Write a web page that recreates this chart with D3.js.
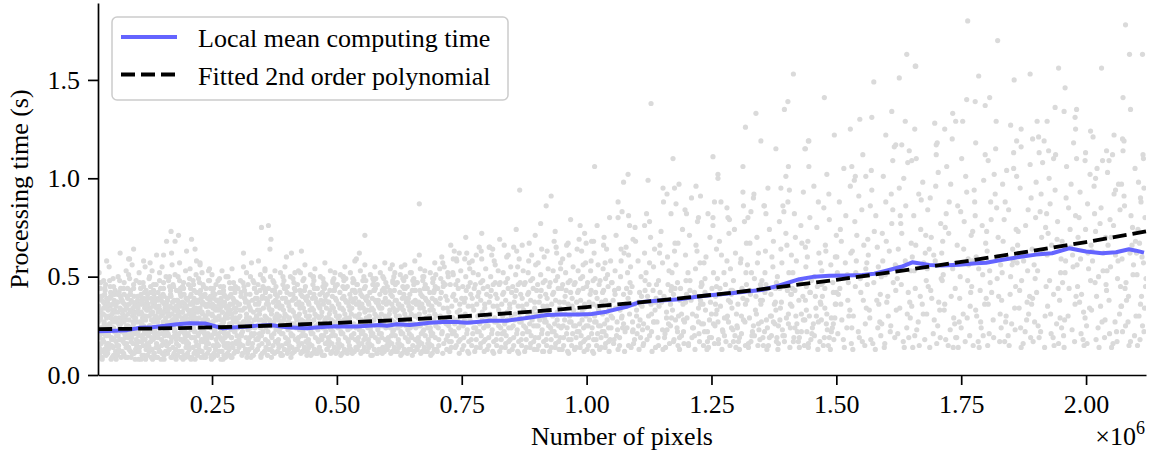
<!DOCTYPE html>
<html>
<head>
<meta charset="utf-8">
<script src="https://cdn.jsdelivr.net/npm/d3@7"></script>
<style>
body { margin: 0; background: #fff; }
text { font-family: "Liberation Serif", "Times New Roman", serif; fill: #000; }
</style>
</head>
<body>
<svg id="chart" width="1154" height="455"></svg>
<script>
// Units: x in thousands of pixels, line y in seconds, scatter y in hundredths of a second.
const xTicks = [250, 500, 750, 1000, 1250, 1500, 1750, 2000];
const xTickLabels = ["0.25", "0.50", "0.75", "1.00", "1.25", "1.50", "1.75", "2.00"];
const yTicks = [0, 0.5, 1.0, 1.5];
const yTickLabels = ["0.0", "0.5", "1.0", "1.5"];
const legendLabels = ["Local mean computing time", "Fitted 2nd order polynomial"];

// local mean (blue line)
const meanX = [22, 56, 80, 106, 130, 156, 180, 206, 236, 272, 290, 316, 340, 366, 400, 440, 470, 496, 540, 586, 600, 620, 646, 660, 686, 720, 740, 760, 780, 806, 840, 880, 920, 950, 986, 1010, 1040, 1080, 1106, 1140, 1186, 1220, 1252, 1290, 1320, 1350, 1386, 1426, 1456, 1486, 1520, 1552, 1576, 1600, 1630, 1652, 1686, 1710, 1746, 1780, 1800, 1830, 1866, 1900, 1932, 1966, 2000, 2032, 2060, 2086, 2100, 2116];
const meanY = [0.222, 0.225, 0.228, 0.24, 0.243, 0.25, 0.258, 0.263, 0.262, 0.237, 0.241, 0.245, 0.251, 0.254, 0.243, 0.238, 0.244, 0.248, 0.246, 0.254, 0.25, 0.258, 0.254, 0.258, 0.266, 0.271, 0.27, 0.266, 0.27, 0.276, 0.276, 0.29, 0.305, 0.308, 0.308, 0.31, 0.322, 0.347, 0.37, 0.378, 0.385, 0.398, 0.407, 0.415, 0.424, 0.432, 0.455, 0.487, 0.5, 0.505, 0.506, 0.508, 0.515, 0.53, 0.55, 0.573, 0.559, 0.556, 0.56, 0.568, 0.571, 0.585, 0.6, 0.612, 0.619, 0.644, 0.628, 0.619, 0.624, 0.639, 0.632, 0.622];

// fitted polynomial (dashed line)
const fitX = [22, 250, 500, 750, 1000, 1250, 1500, 1750, 2000, 2120];
const fitY = [0.233, 0.242, 0.265, 0.298, 0.345, 0.407, 0.484, 0.575, 0.676, 0.730];

// scatter, flat pairs x,y
const scatterDense = [
22,9,24,14,23,19,26,23,25,28,27,33,29,38,31,12,33,17,30,21,34,26,32,31,36,36,35,41,38,10,39,15,37,20,40,25,38,30,39,35,28,40,30,8,35,13,26,44,33,48,37,46,24,52,29,31,36,22,23,35,25,11,28,16,31,24,27,29,33,34,39,39,22,27,36,43,
41,11,43,16,42,21,45,26,44,30,46,35,48,40,50,9,52,14,49,19,53,24,51,28,55,33,54,38,57,12,58,17,56,22,59,27,57,32,59,37,47,42,46,45,52,49,56,43,44,55,50,24,58,8,43,36,54,18,48,29,42,13,47,23,51,33,55,41,59,20,45,39,53,10,49,15,
61,10,63,15,62,20,65,24,64,29,66,34,68,39,70,12,72,17,69,22,73,27,71,31,75,36,74,41,77,9,78,14,76,19,79,25,77,30,79,35,67,44,74,47,62,50,78,53,70,38,65,18,72,23,63,13,76,33,61,37,64,42,69,28,73,11,78,21,67,26,75,16,80,40,
81,9,83,14,82,19,85,23,84,28,86,33,88,38,90,11,92,16,89,21,93,26,91,30,95,35,94,40,97,13,98,18,96,22,99,27,97,32,99,37,87,43,93,46,83,51,98,48,90,56,85,59,94,31,82,25,96,8,88,17,84,36,87,12,91,24,95,29,99,15,86,41,92,34,81,44,
101,12,103,17,102,22,105,27,104,31,106,36,108,41,110,10,112,15,109,20,113,25,111,29,115,34,114,39,117,8,118,13,116,18,119,23,117,28,119,33,107,44,112,47,104,52,118,43,116,55,110,38,102,34,114,21,109,26,120,16,101,40,105,14,108,32,111,19,115,42,119,37,103,8,107,24,
121,10,123,15,122,20,125,25,124,30,126,34,128,39,130,13,132,18,129,22,133,27,131,32,135,37,134,41,137,9,138,14,136,19,139,24,137,29,139,34,127,45,133,43,124,49,138,46,130,53,126,57,135,23,122,36,129,28,131,8,121,41,124,12,127,17,132,35,136,39,140,21,128,31,134,11,
141,9,143,14,142,19,145,24,144,29,146,33,148,38,150,11,152,16,149,21,153,26,151,31,155,36,154,40,157,12,158,17,156,22,159,27,157,32,159,37,147,44,153,47,142,42,158,50,150,55,145,52,155,20,144,35,151,25,149,15,141,27,146,12,148,30,152,41,156,34,160,23,143,39,154,8,
161,11,163,16,162,21,165,25,164,30,166,35,168,40,170,9,172,14,169,19,173,24,171,28,175,33,174,38,177,13,178,18,176,23,179,28,177,33,179,38,167,43,172,46,163,48,176,51,170,56,165,45,174,27,162,31,168,17,178,8,161,38,164,13,167,27,171,34,175,20,179,43,169,31,173,10,
181,10,183,15,182,20,185,25,184,30,186,35,188,40,190,12,192,17,189,22,193,27,191,32,195,36,194,41,197,9,198,14,196,19,199,24,197,29,199,34,187,44,193,47,182,50,197,53,185,57,191,45,183,37,195,22,189,27,198,39,181,33,184,12,187,18,190,29,194,34,200,17,186,42,192,8,
201,11,203,16,202,21,205,26,204,31,206,36,208,41,210,9,212,14,209,19,213,24,211,29,215,34,214,39,217,12,218,17,216,22,219,27,217,32,219,37,207,44,212,48,203,46,218,51,206,54,214,43,210,33,202,27,216,8,208,23,201,38,204,13,207,29,211,37,215,19,219,42,205,9,213,31,
221,10,223,15,222,20,225,24,224,29,226,34,228,39,230,12,232,17,229,22,233,27,231,31,235,36,234,40,237,9,238,14,236,19,239,25,237,30,239,35,227,43,232,46,223,49,238,44,230,52,226,56,234,22,222,33,235,28,228,17,221,37,224,13,227,26,231,36,236,41,240,18,229,32,233,9,
241,11,243,16,242,21,245,26,244,31,246,35,248,40,250,10,252,15,249,20,253,25,251,30,255,35,254,39,257,13,258,18,256,23,259,28,257,33,259,38,247,44,252,42,243,48,258,46,250,51,245,54,254,21,242,36,251,27,249,8,241,28,244,13,248,24,252,34,256,41,260,16,246,38,253,9,
261,10,263,15,262,20,265,25,264,30,266,34,268,39,270,12,272,17,269,22,273,27,271,32,275,37,274,41,277,9,278,14,276,19,279,24,277,29,279,34,267,45,273,43,262,48,278,50,270,53,265,42,264,36,275,23,268,28,272,8,261,38,264,12,267,19,271,26,276,40,280,31,269,35,274,15,
281,11,283,16,282,21,285,26,284,31,286,36,288,41,290,9,292,14,289,19,293,24,291,29,295,34,294,38,297,12,298,17,296,22,299,27,297,32,299,37,287,44,293,47,282,50,297,45,290,54,285,40,294,28,283,35,288,23,291,16,281,29,284,13,287,33,292,39,296,42,300,20,289,26,285,10
];

const scatterDenseFill = [
26,13,31,18,36,11,28,24,39,29,24,32,33,37,37,21,29,40,40,16,25,20,34,27,38,34,30,9,35,44,27,47,22,39,32,31,
44,14,49,18,54,10,46,25,57,29,42,33,51,36,55,22,47,40,59,15,43,20,52,27,58,35,48,8,53,45,45,48,41,38,50,31,
64,12,69,18,74,10,66,23,77,28,62,32,71,37,75,21,67,40,79,16,63,26,72,29,78,34,68,9,73,44,65,48,61,41,70,33,
84,13,89,19,94,11,86,24,97,29,82,31,91,37,95,21,87,41,99,16,83,21,92,27,98,35,88,9,93,44,85,49,81,39,90,32,
104,12,109,17,114,10,106,24,117,30,102,32,111,36,115,22,107,40,119,15,103,20,112,28,118,35,108,8,113,45,105,47,101,38,110,31,
124,14,129,19,134,11,126,25,137,30,122,33,131,37,135,21,127,42,139,16,123,21,132,28,138,35,128,9,133,46,125,50,121,39,130,31,
144,12,149,18,154,10,146,24,157,29,142,32,151,37,155,21,147,40,159,15,143,21,152,27,158,35,148,8,153,44,145,48,141,38,150,32,
164,13,169,19,174,11,166,24,177,30,162,33,171,37,175,22,167,41,179,16,163,20,172,28,178,35,168,9,173,45,165,50,161,39,170,31,
184,12,189,18,194,10,186,25,197,30,182,32,191,37,195,21,187,41,199,16,183,21,192,28,198,35,188,9,193,44,185,48,181,38,190,32,
204,14,209,19,214,11,206,24,217,29,202,33,211,36,215,22,207,40,219,15,203,20,212,27,218,34,208,8,213,46,205,49,201,39,210,31,
224,12,229,18,234,10,226,24,237,30,222,32,231,37,235,21,227,41,239,16,223,21,232,28,238,35,228,9,233,45,225,47,221,38,230,32,
244,13,249,19,254,11,246,25,257,29,242,32,251,36,255,22,247,40,259,15,243,20,252,27,258,34,248,9,253,44,245,48,241,39,250,31,
264,12,269,18,274,10,266,24,277,30,262,33,271,37,275,21,267,42,279,16,263,21,272,28,278,35,268,8,273,45,265,49,261,38,270,32,
284,14,289,19,294,11,286,25,297,29,282,32,291,36,295,22,287,40,299,16,283,20,292,27,298,34,288,9,293,44,285,47,281,39,290,31
];

const scatterLow = [
301,12,304,18,302,24,306,30,305,36,308,42,310,10,312,15,309,21,313,27,311,33,315,39,317,13,318,19,316,25,319,31,317,37,314,45,307,48,319,52,303,29,311,22,306,16,315,34,320,9,308,40,302,44,313,55,305,26,318,41,
321,11,323,17,322,23,325,29,324,35,326,41,328,9,330,14,332,20,329,26,333,32,331,38,335,44,337,12,338,18,336,24,339,30,337,36,334,47,327,50,339,42,323,27,331,16,327,33,335,21,340,39,322,46,329,57,333,10,325,19,
341,13,343,19,342,25,345,31,344,37,346,43,348,10,350,16,352,22,349,28,353,34,351,40,355,12,357,18,358,24,356,30,359,36,357,42,354,48,347,51,341,33,352,45,345,21,358,14,350,39,343,28,356,54,348,9,355,27,342,46,
361,10,363,16,362,22,365,28,364,34,366,40,368,13,370,19,372,25,369,31,373,37,371,43,375,11,377,17,378,23,376,29,379,35,377,41,374,47,367,50,361,38,372,15,366,26,378,45,370,33,363,44,376,53,369,9,374,21,380,31,
381,12,383,18,382,24,385,30,384,36,386,42,388,10,390,15,392,21,389,27,393,33,391,39,395,13,397,19,398,25,396,31,399,37,397,44,394,48,387,52,381,40,392,46,385,22,398,16,390,35,383,28,396,55,388,11,394,29,400,42,
401,11,403,17,402,23,405,29,404,35,406,41,408,9,410,14,412,20,409,26,413,32,411,38,415,12,417,18,418,24,416,30,419,36,417,43,414,47,407,50,401,45,412,41,405,15,418,13,410,33,403,27,416,52,408,21,414,39,420,28,
421,13,423,19,422,25,425,31,424,37,426,43,428,11,430,16,432,22,429,28,433,34,431,40,435,14,437,20,438,26,436,32,439,38,437,45,434,49,427,52,421,46,432,12,425,23,438,17,430,36,423,30,436,56,428,41,434,27,440,10,
441,12,443,18,442,24,445,30,444,36,446,42,448,10,450,15,452,21,449,27,453,33,451,39,455,13,457,19,458,25,456,31,459,37,457,44,454,48,447,51,441,40,452,46,445,16,458,11,450,34,443,28,456,54,448,22,454,41,460,30,
461,11,463,17,462,23,465,29,464,35,466,41,468,12,470,18,472,24,469,30,473,36,471,42,475,10,477,16,478,22,476,28,479,34,477,40,474,47,467,50,461,44,472,45,465,14,478,46,470,32,463,26,476,57,468,38,474,20,480,13,
481,13,483,19,482,25,485,31,484,37,486,43,488,11,490,16,492,22,489,28,493,34,491,40,495,14,497,20,498,26,496,32,499,38,497,45,494,49,487,53,481,41,492,47,485,17,498,11,490,35,483,29,496,52,488,23,494,43,500,30,
501,12,503,18,502,24,505,30,504,36,506,42,508,10,510,15,512,21,509,27,513,33,511,39,515,13,517,19,518,25,516,31,519,37,517,44,514,48,507,51,501,46,512,45,505,16,518,49,510,34,503,28,516,55,508,22,514,40,520,12,
521,11,523,17,522,23,525,29,524,35,526,41,528,13,530,19,532,25,529,31,533,37,531,43,535,12,537,18,538,24,536,30,539,36,537,42,534,48,527,52,521,45,532,47,525,15,538,14,530,34,523,27,536,58,528,39,534,21,540,46,
541,13,543,19,542,25,545,31,544,37,546,43,548,11,550,16,552,22,549,28,553,34,551,40,555,14,557,20,558,26,556,32,559,38,557,45,554,50,547,53,541,46,552,12,545,23,558,48,550,36,543,29,556,56,548,41,554,18,560,33,
561,12,563,18,562,24,565,30,564,36,566,42,568,10,570,15,572,21,569,27,573,33,571,39,575,13,577,19,578,25,576,31,579,37,577,44,574,48,567,51,561,40,572,46,565,16,578,49,570,34,563,28,576,55,568,22,574,43,580,11,
581,11,583,17,582,23,585,29,584,35,586,41,588,13,590,19,592,25,589,31,593,37,591,43,595,12,597,18,598,24,596,30,599,36,597,42,594,49,587,52,581,46,592,14,585,21,598,47,590,34,583,38,596,57,588,27,594,44,600,15,
601,13,603,19,602,25,605,31,604,37,606,43,608,11,610,16,612,22,609,28,613,34,611,40,615,14,617,20,618,26,616,32,619,38,617,46,614,50,607,54,601,45,612,47,605,17,618,12,610,36,603,29,616,52,608,41,614,23,620,33,
621,12,623,18,622,24,625,30,624,36,626,42,628,10,630,15,632,21,629,27,633,33,631,39,635,13,637,19,638,25,636,31,639,37,637,44,634,48,627,51,621,47,632,45,625,16,638,50,630,35,623,29,636,56,628,22,634,41,640,12,
641,11,643,17,642,23,645,29,644,35,646,41,648,13,650,19,652,25,649,31,653,37,651,43,655,12,657,18,658,24,656,30,659,36,657,43,654,49,647,52,641,45,652,15,645,21,658,47,650,34,643,39,656,58,648,27,654,46,660,14,
661,13,663,19,662,25,665,31,664,37,666,43,668,11,670,16,672,22,669,28,673,34,671,40,675,14,677,20,678,26,676,32,679,38,677,46,674,50,667,54,661,47,672,48,665,17,678,12,670,36,663,29,676,53,668,41,674,23,680,44,
681,12,683,18,682,24,685,30,684,36,686,42,688,10,690,15,692,21,689,27,693,33,691,39,695,13,697,19,698,25,696,31,699,37,697,45,694,49,687,52,681,44,692,47,685,16,698,51,690,35,683,28,696,57,688,22,694,42,700,13
];

const scatterLowFill = [
304,14,309,20,314,27,306,33,317,38,302,17,311,11,315,43,307,25,319,29,303,36,312,47,
324,13,329,21,334,28,326,34,337,39,322,16,331,10,335,44,327,24,339,30,323,37,332,48,
344,15,349,20,354,26,346,33,357,39,342,18,351,11,355,44,347,24,359,29,343,36,352,49,
364,13,369,20,374,27,366,33,377,38,362,17,371,12,375,43,367,25,379,30,363,36,372,48,
384,14,389,21,394,28,386,34,397,39,382,16,391,10,395,44,387,24,399,30,383,37,392,50,
404,13,409,20,414,26,406,33,417,39,402,18,411,11,415,44,407,24,419,29,403,37,412,49,
424,15,429,20,434,27,426,34,437,39,422,17,431,12,435,43,427,25,439,30,423,36,432,48,
444,14,449,21,454,28,446,33,457,39,442,16,451,11,455,44,447,24,459,30,443,37,452,50,
464,13,469,20,474,26,466,34,477,38,462,18,471,10,475,44,467,25,479,29,463,36,472,49,
484,15,489,20,494,27,486,33,497,39,482,17,491,12,495,43,487,24,499,30,483,37,492,48,
504,14,509,21,514,28,506,34,517,38,502,16,511,11,515,44,507,25,519,29,503,36,512,50,
524,13,529,20,534,26,526,33,537,39,522,18,531,11,535,43,527,24,539,30,523,37,532,49,
544,15,549,21,554,27,546,34,557,39,542,17,551,12,555,44,547,25,559,29,543,36,552,48,
564,14,569,20,574,28,566,33,577,38,562,16,571,10,575,43,567,24,579,30,563,37,572,49,
584,13,589,21,594,26,586,34,597,39,582,18,591,11,595,44,587,25,599,29,583,36,592,50,
604,15,609,20,614,27,606,33,617,38,602,17,611,12,615,43,607,24,619,30,603,37,612,48,
624,14,629,21,634,28,626,34,637,39,622,16,631,11,635,44,627,25,639,29,623,36,632,49,
644,13,649,20,654,26,646,33,657,38,642,18,651,10,655,43,647,24,659,30,643,37,652,48,
664,15,669,21,674,27,666,34,677,39,662,17,671,12,675,44,667,25,679,29,663,36,672,50,
684,14,689,20,694,28,686,33,697,38,682,16,691,11,695,43,687,24,699,30,683,37,692,49
];

const scatterMid = [
701,12,704,18,703,24,707,30,705,36,709,42,712,11,714,16,711,22,716,28,713,34,718,40,720,13,722,20,719,26,724,32,721,38,717,46,708,49,723,50,702,44,715,55,710,60,706,27,725,17,713,47,
726,12,729,17,728,23,732,29,730,35,734,41,737,14,739,20,736,26,741,32,738,38,743,44,745,11,747,18,744,24,749,30,746,36,742,48,733,51,748,53,727,46,740,58,735,63,731,21,750,39,739,15,
751,13,754,19,753,25,757,31,755,37,759,43,762,12,764,17,761,23,766,29,763,35,768,41,770,15,772,21,769,27,774,33,771,39,767,47,758,50,773,52,752,45,765,57,760,62,756,28,775,44,764,11,
776,12,779,18,778,24,782,30,780,36,784,42,787,14,789,20,786,26,791,32,788,38,793,44,795,12,797,18,794,24,799,30,796,36,792,48,783,51,798,54,777,46,790,59,785,65,781,22,800,41,788,16,
801,13,804,19,803,25,807,31,805,37,809,43,812,12,814,17,811,23,816,29,813,35,818,41,820,15,822,21,819,27,824,33,821,39,817,47,808,50,823,53,802,45,815,58,810,61,806,28,825,46,814,11,
826,12,829,18,828,24,832,30,830,36,834,42,837,14,839,20,836,26,841,32,838,38,843,44,845,12,847,18,844,24,849,30,846,36,842,49,833,52,848,55,827,47,840,60,835,66,831,21,850,42,838,16,
851,13,854,19,853,25,857,31,855,37,859,43,862,12,864,17,861,23,866,29,863,35,868,41,870,15,872,21,869,27,874,33,871,39,867,47,858,51,873,53,852,45,865,59,860,63,856,28,875,46,864,11,
876,12,879,18,878,24,882,30,880,36,884,42,887,14,889,20,886,26,891,32,888,38,893,44,895,13,897,19,894,25,899,31,896,37,892,49,883,52,898,56,877,47,890,61,885,67,881,22,900,43,888,16,
901,13,904,19,903,25,907,31,905,37,909,43,912,12,914,17,911,23,916,29,913,35,918,41,920,15,922,21,919,27,924,33,921,39,917,48,908,51,923,54,902,46,915,60,910,64,906,28,925,45,914,12,
926,12,929,18,928,24,932,30,930,36,934,42,937,14,939,20,936,26,941,32,938,38,943,44,945,13,947,19,944,25,949,31,946,37,942,50,933,53,948,57,927,47,940,62,935,68,931,22,950,44,938,16,
951,13,954,19,953,25,957,31,955,37,959,43,962,12,964,18,961,24,966,30,963,36,968,42,970,15,972,21,969,27,974,33,971,39,967,48,958,52,973,55,952,46,965,61,960,66,956,28,975,46,964,11,
976,13,979,19,978,25,982,31,980,37,984,43,987,14,989,20,986,26,991,32,988,38,993,44,995,12,997,18,994,24,999,30,996,36,992,50,983,53,998,57,977,47,990,63,985,69,981,22,1000,45,988,16,
1001,13,1004,19,1003,25,1007,31,1005,37,1009,43,1012,12,1014,18,1011,24,1016,30,1013,36,1018,42,1020,15,1022,21,1019,27,1024,33,1021,39,1017,49,1008,53,1023,56,1002,47,1015,62,1010,68,1006,28,1025,46,1014,11,
1026,13,1029,19,1028,25,1032,31,1030,37,1034,43,1037,14,1039,20,1036,26,1041,32,1038,38,1043,45,1045,12,1047,18,1044,24,1049,30,1046,36,1042,51,1033,54,1048,58,1027,48,1040,64,1035,70,1031,22,1050,47,1038,16
];

const scatterMidFill = [
704,15,710,21,716,27,721,34,707,39,713,45,719,18,724,25,
729,14,735,22,741,28,746,33,732,40,738,46,744,17,749,26,
754,15,760,21,766,27,771,35,757,39,763,45,769,18,774,24,
779,14,785,22,791,28,796,34,782,40,788,47,794,17,799,25,
804,15,810,21,816,27,821,35,807,40,813,46,819,18,824,25,
829,14,835,22,841,28,846,34,832,41,838,47,844,17,849,24,
854,15,860,21,866,27,871,35,857,40,863,46,869,18,874,25,
879,14,885,22,891,28,896,34,882,41,888,48,894,17,899,25,
904,15,910,21,916,27,921,35,907,40,913,47,919,18,924,25,
929,14,935,22,941,28,946,34,932,41,938,48,944,17,949,24,
954,15,960,21,966,27,971,35,957,40,963,47,969,18,974,25,
979,14,985,22,991,28,996,34,982,42,988,49,994,17,999,25,
1004,15,1010,21,1016,27,1021,35,1007,41,1013,48,1019,18,1024,25,
1029,14,1035,22,1041,28,1046,34,1032,42,1038,49,1044,17,1049,24,
712,57,728,66,745,62,758,70,771,58,790,72,812,64,826,69,843,61,859,74,871,66,884,58,897,71,908,77,921,63,937,73,
952,59,968,79,981,64,996,72,1009,58,1021,76,1034,66,1046,80,722,52,766,54,817,56,862,55,903,57,948,54,993,56,1037,57
];

const scatterWide = [
1063,13,1051,47,1077,22,1058,34,1069,58,1055,18,1074,41,1061,27,1079,65,1066,15,1053,38,1071,30,1057,53,1076,12,1064,44,1059,71,1072,24,1052,29,1068,50,1078,36,1060,20,1075,62,1056,43,1067,33,
1094,16,1083,39,1107,28,1088,55,1101,21,1091,45,1105,13,1086,31,1098,68,1109,50,1081,24,1096,36,1103,58,1089,14,1092,27,1106,42,1084,61,1100,33,1108,19,1087,47,1097,75,1082,52,1104,37,1093,23,
1121,18,1133,43,1114,26,1138,14,1126,57,1111,35,1130,22,1136,64,1117,48,1124,30,1139,39,1113,15,1128,70,1119,52,1135,27,1122,40,1131,12,1116,62,1137,33,1125,46,1112,23,1134,55,1120,82,1129,36,
1157,21,1144,48,1166,16,1150,37,1162,60,1141,27,1169,43,1153,13,1147,66,1160,32,1143,19,1165,53,1155,40,1168,25,1149,73,1158,14,1145,35,1163,46,1152,57,1170,29,1146,62,1161,23,1154,88,1167,38,
1183,15,1174,41,1196,27,1179,56,1190,20,1172,33,1199,48,1186,13,1177,67,1193,36,1181,24,1198,61,1188,44,1175,18,1192,74,1184,30,1171,52,1195,16,1187,38,1178,28,1197,84,1182,47,1194,22,1176,63,
1214,24,1203,52,1226,17,1209,38,1221,63,1201,29,1229,45,1217,13,1206,71,1224,34,1211,19,1227,57,1216,42,1204,15,1222,78,1212,31,1230,26,1207,48,1219,66,1225,21,1202,40,1218,54,1210,90,1228,36,
1244,14,1233,36,1257,25,1239,60,1250,19,1231,46,1259,31,1247,70,1236,22,1254,52,1241,13,1258,40,1246,28,1235,57,1253,76,1242,17,1260,64,1238,33,1251,44,1234,26,1256,16,1243,82,1248,37,1237,49,
1273,22,1262,49,1287,15,1268,35,1281,58,1264,18,1289,43,1276,29,1266,68,1284,38,1271,13,1288,54,1278,46,1263,27,1283,80,1270,61,1290,24,1267,41,1279,17,1285,72,1261,33,1275,52,1282,30,1269,88,
1304,17,1292,43,1317,27,1298,62,1310,21,1291,34,1319,52,1306,13,1296,74,1313,39,1301,25,1318,15,1308,57,1294,48,1314,86,1300,31,1320,67,1297,20,1311,44,1303,36,1316,78,1293,23,1309,59,1299,14,
1334,25,1322,56,1347,18,1328,41,1341,70,1324,14,1349,36,1336,49,1326,29,1344,62,1331,20,1348,46,1338,33,1323,80,1343,15,1330,52,1350,27,1327,67,1339,40,1345,23,1321,38,1335,92,1342,57,1329,17,
1364,15,1352,38,1377,26,1358,63,1370,20,1351,48,1379,33,1366,74,1356,22,1373,55,1361,13,1378,44,1368,30,1355,86,1374,68,1360,28,1380,17,1357,52,1369,41,1363,95,1376,36,1353,19,1371,60,1359,46,
1393,20,1382,50,1407,14,1388,34,1401,66,1384,25,1409,41,1396,17,1386,78,1404,31,1391,57,1408,24,1398,45,1383,13,1403,88,1390,37,1410,61,1387,28,1399,72,1405,52,1381,19,1395,83,1402,43,1389,64,
1424,17,1412,44,1437,28,1418,70,1430,22,1411,35,1439,55,1426,14,1416,82,1433,40,1421,26,1438,65,1428,48,1415,19,1434,93,1420,58,1440,33,1417,24,1429,76,1436,15,1413,52,1425,38,1431,67,1419,30,
1454,26,1442,60,1467,17,1448,42,1461,75,1444,14,1469,36,1456,50,1446,30,1464,88,1451,21,1468,57,1458,40,1443,68,1463,13,1450,48,1470,28,1447,80,1459,34,1465,62,1441,22,1455,96,1462,45,1449,18,
1484,15,1472,40,1497,29,1478,66,1490,22,1471,53,1499,36,1486,79,1476,19,1493,47,1481,31,1498,60,1488,13,1475,85,1494,42,1480,26,1500,71,1477,34,1489,56,1495,18,1473,47,1485,92,1492,24,1479,63
];

const scatterWideFill = [
1054,16,1062,23,1070,29,1078,35,1057,41,1066,19,1074,26,1080,44,
1084,15,1092,22,1100,30,1108,36,1087,42,1096,18,1104,25,1110,40,
1114,16,1122,24,1130,31,1138,37,1117,43,1126,20,1134,27,1140,46,
1144,15,1152,23,1160,29,1168,36,1147,42,1156,19,1164,26,1170,45,
1174,17,1182,22,1190,31,1198,37,1177,44,1186,19,1194,28,1200,41,
1204,16,1212,24,1220,30,1228,38,1207,43,1216,20,1224,27,1230,47,
1234,15,1242,22,1250,31,1258,36,1237,42,1246,19,1254,26,1260,45,
1264,16,1272,23,1280,29,1288,37,1267,44,1276,20,1284,27,1290,41,
1294,17,1302,24,1310,30,1318,36,1297,42,1306,19,1314,28,1320,46,
1324,16,1332,22,1340,31,1348,38,1327,43,1336,20,1344,26,1350,44,
1354,15,1362,24,1370,30,1378,37,1357,42,1366,19,1374,27,1380,47,
1384,16,1392,23,1400,29,1408,36,1387,44,1396,20,1404,26,1410,41,
1414,17,1422,22,1430,31,1438,38,1417,43,1426,19,1434,28,1440,45,
1444,16,1452,24,1460,30,1468,37,1447,42,1456,20,1464,27,1470,46,
1474,15,1482,23,1490,29,1498,36,1477,44,1486,19,1494,26,1500,42
];

const scatterFar = [
1514,18,1502,52,1527,33,1508,74,1521,24,1504,41,1529,62,1516,14,1506,88,1524,47,1511,28,1528,96,1518,57,1503,21,1523,38,1510,68,1530,16,1507,44,1519,81,1525,30,1501,60,1515,105,1522,51,1509,36,
1544,22,1532,63,1557,15,1538,45,1551,84,1534,30,1559,54,1546,19,1536,99,1554,38,1541,71,1558,26,1548,49,1533,13,1553,112,1540,58,1560,34,1537,78,1549,42,1555,66,1531,24,1545,91,1552,17,1539,52,
1573,16,1562,46,1587,27,1568,86,1581,38,1564,61,1589,20,1576,73,1566,33,1584,55,1571,94,1588,41,1578,13,1563,69,1583,24,1570,104,1590,50,1567,29,1579,81,1585,36,1561,57,1575,47,1582,65,1569,18,
1604,30,1592,72,1617,19,1598,51,1610,92,1591,26,1619,43,1606,63,1596,14,1613,84,1601,37,1618,56,1608,22,1594,101,1614,47,1600,68,1620,33,1597,16,1611,77,1603,40,1616,116,1593,58,1609,25,1599,88,
1634,17,1622,49,1647,37,1628,81,1641,24,1624,64,1649,53,1636,14,1626,95,1644,42,1631,72,1648,29,1638,58,1623,21,1643,108,1630,46,1650,67,1627,34,1639,86,1645,19,1621,55,1635,100,1642,31,1629,77,
1664,27,1652,60,1677,18,1658,44,1670,89,1651,35,1679,71,1666,15,1656,53,1673,98,1661,23,1678,62,1668,40,1655,81,1674,31,1660,110,1680,48,1657,20,1669,74,1675,57,1653,14,1665,92,1672,36,1659,66,
1694,21,1682,54,1707,33,1688,90,1701,16,1684,45,1709,77,1696,28,1686,64,1704,103,1691,39,1708,19,1698,58,1683,84,1703,25,1690,70,1710,49,1687,14,1699,96,1705,37,1681,31,1695,61,1702,118,1689,43,
1724,15,1712,48,1737,26,1718,75,1730,40,1711,62,1739,19,1726,88,1716,33,1733,54,1721,106,1738,44,1728,23,1713,68,1734,14,1720,82,1740,57,1717,36,1729,97,1735,29,1714,51,1725,72,1732,120,1719,18,
1754,31,1742,66,1767,20,1748,50,1761,93,1744,14,1769,42,1756,78,1746,27,1764,59,1751,110,1768,35,1758,17,1743,86,1763,48,1750,24,1770,71,1747,39,1759,101,1765,56,1741,19,1755,64,1762,29,1749,83,
1784,17,1772,58,1797,36,1778,81,1790,24,1771,45,1799,67,1786,14,1776,94,1793,51,1781,30,1798,112,1788,43,1773,73,1794,20,1780,60,1800,39,1777,88,1789,27,1795,99,1774,15,1785,54,1792,76,1779,33,
1814,28,1802,63,1827,17,1808,47,1821,85,1804,36,1829,56,1816,102,1806,21,1824,70,1811,42,1828,31,1818,92,1803,15,1823,60,1810,79,1830,24,1807,53,1819,115,1825,40,1801,73,1815,19,1822,49,1809,88,
1844,20,1832,52,1857,34,1838,88,1851,26,1834,68,1859,45,1846,15,1836,79,1854,58,1841,104,1858,23,1848,41,1833,97,1853,64,1840,30,1860,74,1837,17,1849,50,1855,113,1831,38,1845,84,1852,56,1839,27,
1874,16,1862,57,1887,40,1868,95,1881,28,1864,73,1889,19,1876,62,1866,34,1884,84,1871,48,1888,107,1878,22,1863,66,1883,53,1870,14,1890,90,1867,43,1879,76,1885,31,1861,101,1875,58,1882,37,1869,24,
1904,25,1892,64,1917,14,1898,49,1910,92,1891,36,1919,75,1906,19,1896,56,1913,108,1901,42,1918,30,1908,83,1894,17,1914,62,1900,98,1920,45,1897,27,1911,70,1903,53,1916,119,1893,39,1909,22,1899,80,
1934,19,1922,61,1947,38,1928,87,1941,26,1924,72,1949,52,1936,15,1926,100,1944,44,1931,66,1948,29,1938,94,1923,35,1943,78,1930,21,1950,59,1927,48,1939,112,1945,16,1921,82,1935,41,1942,69,1929,31,
1964,30,1952,68,1977,17,1958,52,1970,97,1951,24,1979,81,1966,44,1956,14,1973,61,1961,106,1978,36,1968,74,1955,20,1974,55,1960,90,1980,40,1957,28,1969,65,1975,118,1953,47,1965,85,1972,23,1959,58,
1994,18,1982,56,2007,34,1988,93,2001,25,1984,70,2009,48,1996,15,1986,80,2004,62,1991,41,2008,102,1998,29,1983,45,2003,87,1990,21,2010,66,1987,37,1999,74,2005,54,1981,110,1995,32,2002,16,1989,59,
2024,24,2012,63,2037,19,2018,47,2030,85,2011,33,2039,70,2026,14,2016,96,2034,53,2021,40,2038,28,2028,77,2013,58,2033,109,2020,18,2040,46,2017,82,2029,35,2035,62,2014,121,2025,50,2032,27,2019,73,
2054,16,2042,53,2067,31,2048,79,2061,22,2044,66,2069,45,2056,92,2046,38,2064,58,2051,14,2068,84,2058,27,2043,103,2063,49,2050,70,2070,35,2047,21,2059,61,2065,97,2041,43,2055,76,2062,17,2049,55,
2084,27,2072,59,2097,20,2078,44,2090,81,2071,35,2099,68,2086,15,2076,91,2094,51,2081,38,2098,105,2088,62,2073,22,2093,75,2080,47,2100,30,2077,86,2089,17,2095,56,2074,114,2085,40,2092,66,2079,25,
2108,18,2102,51,2117,34,2104,74,2113,25,2101,62,2119,45,2110,88,2106,30,2115,57,2103,15,2118,80,2111,40,2105,98,2116,22,2107,67,2120,49,2109,36,2114,112,2112,60
];

const scatterOutliers = [
168,73,159,68,176,68,183,71,209,69,66,62,93,64,39,58,83,59,139,61,153,61,169,62,199,63,216,64,219,58,226,57,243,53,113,58,
313,62,349,75,363,76,368,69,366,64,343,58,356,53,399,60,409,62,429,63,423,53,453,50,513,50,
665,87,665,61,556,71,545,62,539,59,611,56,629,55,706,54,739,59,756,59,779,61,789,63,805,65,732,52,649,52,
733,59,806,65,854,65,939,65,963,67,1014,68,866,94,919,86,929,91,987,76,999,67,
1016,106,1129,138,1173,110,1083,102,1074,98,1123,99,1153,95,1161,92,1185,97,1176,95,1219,96,1228,91,1253,111,1263,102,1263,100,
1313,106,1318,126,1339,133,1349,119,1379,115,1403,139,1396,135,1414,153,1445,119,1438,115,1445,106,1404,106,1399,101,1389,95,
1313,93,1334,90,1256,88,1281,85,1179,87,1063,88,1071,83,1084,81,1063,80,1086,76,1116,76,1126,78,1169,82,1200,82,1224,80,1253,80,
1286,79,1329,83,1356,86,1359,82,1393,86,1406,94,1069,64,1093,69,1183,67,
1659,157,1575,149,1626,151,1476,141,1785,152,1888,153,1856,150,1945,156,1958,146,2031,156,2074,141,2089,135,
1761,140,1778,139,1807,141,1798,137,1733,133,1739,129,1753,129,1697,128,1717,125,1657,125,1638,129,1611,134,1571,131,1547,130,1528,125,1496,122,
1820,129,1849,127,1870,125,1902,129,1922,129,1938,136,1956,134,1981,135,1978,131,1979,125,2009,124,2056,122,2073,120,2076,119,
1893,120,1905,121,1861,119,1804,109,1779,118,1700,117,1700,112,1619,117,1631,117,1646,114,1613,109,1651,109,1599,122,
1531,106,1538,101,1559,101,1481,102,1855,105,1870,116,1906,113,1925,114,1935,110,1999,113,1998,109,2022,105,2019,100,
2041,114,2053,112,2046,109,2115,110,2116,95,2109,90,2071,97,2059,94,
1763,180,1823,170,2079,178,2087,163,2113,163,1641,163,1658,157,1444,119,1437,115
];

const svg = d3.select("#chart");
const W = 1154, H = 455;
const plot = { left: 98, right: 1146, top: 3, bottom: 375 };
const fontSize = 26;

const x = d3.scaleLinear().domain([21.7, 2120]).range([plot.left, plot.right]);
const y = d3.scaleLinear().domain([0, 1.891]).range([plot.bottom, plot.top]);

svg.append("rect").attr("width", W).attr("height", H).attr("fill", "#fff");

// scatter
function pairs(flat) {
    let out = [];
    for (let i = 0; i < flat.length; i += 2) out.push({ x: flat[i], y: flat[i + 1] / 100 });
    return out;
}
const points = [].concat(
    pairs(scatterDense), pairs(scatterDenseFill), pairs(scatterLow), pairs(scatterLowFill),
    pairs(scatterMid), pairs(scatterMidFill), pairs(scatterWide), pairs(scatterWideFill),
    pairs(scatterFar), pairs(scatterOutliers)
);

svg.append("defs").append("clipPath").attr("id", "clip")
    .append("rect").attr("x", plot.left).attr("y", plot.top)
    .attr("width", plot.right - plot.left).attr("height", plot.bottom - plot.top);

svg.append("g").attr("clip-path", "url(#clip)")
    .selectAll("circle").data(points).join("circle")
    .attr("cx", d => x(d.x))
    .attr("cy", d => y(d.y))
    .attr("r", 2.6)
    .attr("fill", "#dadada");

// lines
const meanData = meanX.map((v, i) => ({ x: v, y: meanY[i] }));
const fitData = fitX.map((v, i) => ({ x: v, y: fitY[i] }));

svg.append("path").datum(meanData)
    .attr("d", d3.line().x(d => x(d.x)).y(d => y(d.y)))
    .attr("fill", "none").attr("stroke", "#6464ff").attr("stroke-width", 4)
    .attr("stroke-linejoin", "round");

svg.append("path").datum(fitData)
    .attr("d", d3.line().x(d => x(d.x)).y(d => y(d.y)).curve(d3.curveMonotoneX))
    .attr("fill", "none").attr("stroke", "#000").attr("stroke-width", 3.8)
    .attr("stroke-dasharray", "14,6");

// axes
const xAxis = d3.axisBottom(x).tickValues(xTicks)
    .tickFormat((d, i) => xTickLabels[i]).tickSize(10).tickSizeOuter(0).tickPadding(9.5);
const yAxis = d3.axisLeft(y).tickValues(yTicks)
    .tickFormat((d, i) => yTickLabels[i]).tickSize(10).tickSizeOuter(0).tickPadding(8);

const gx = svg.append("g").attr("transform", "translate(0," + plot.bottom + ")").call(xAxis);
const gy = svg.append("g").attr("transform", "translate(" + plot.left + ",0)").call(yAxis);
[gx, gy].forEach(g => {
    g.attr("font-family", null).attr("font-size", null);
    g.selectAll("path, line").attr("stroke", "#000").attr("stroke-width", 1.7);
    g.selectAll("text").style("font-size", fontSize + "px");
});

// axis labels
svg.append("text")
    .attr("x", (plot.left + plot.right) / 2).attr("y", 445)
    .attr("text-anchor", "middle").style("font-size", fontSize + "px")
    .text("Number of pixels");

svg.append("text")
    .attr("transform", "translate(28," + ((plot.top + plot.bottom) / 2) + ")rotate(-90)")
    .attr("text-anchor", "middle").style("font-size", fontSize + "px")
    .text("Processing time (s)");

const offset = svg.append("text")
    .attr("x", 1145).attr("y", 445).attr("text-anchor", "end")
    .style("font-size", fontSize + "px");
offset.append("tspan").text("\u00d710");
offset.append("tspan").attr("dy", -11).style("font-size", "18px").text("6");

// legend
const legend = svg.append("g");
legend.append("rect")
    .attr("x", 112).attr("y", 17).attr("width", 396).attr("height", 83)
    .attr("rx", 5).attr("fill", "#fff").attr("fill-opacity", 0.8)
    .attr("stroke", "#cccccc").attr("stroke-width", 1.5);
const legendStyles = [
    { stroke: "#6464ff", dash: null },
    { stroke: "#000", dash: "14,6" }
];
legendLabels.forEach((label, i) => {
    const cy = 37 + i * 37.5;
    legend.append("line")
        .attr("x1", 121).attr("x2", 177).attr("y1", cy).attr("y2", cy)
        .attr("stroke", legendStyles[i].stroke).attr("stroke-width", 3.8)
        .attr("stroke-dasharray", legendStyles[i].dash);
    legend.append("text")
        .attr("x", 198).attr("y", cy + 10)
        .style("font-size", fontSize + "px")
        .text(label);
});
</script>
</body>
</html>
